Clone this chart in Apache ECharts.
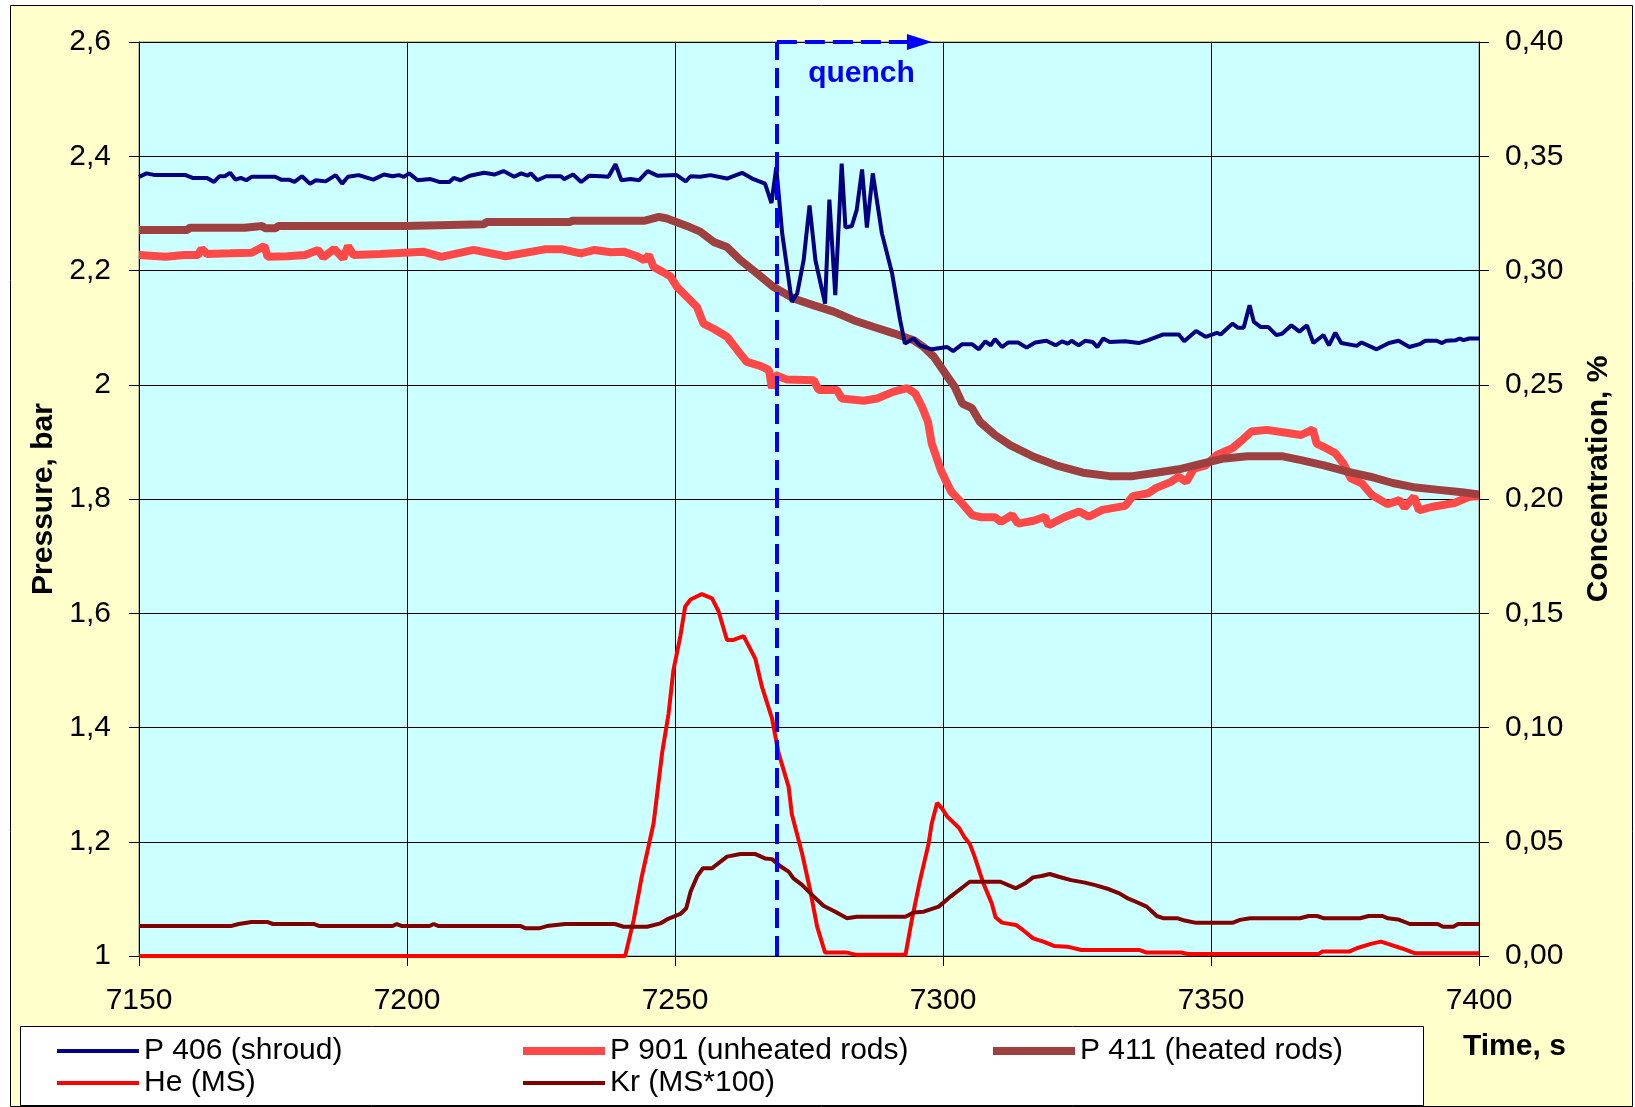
<!DOCTYPE html>
<html>
<head>
<meta charset="utf-8">
<script src="https://cdn.jsdelivr.net/npm/echarts@6/dist/echarts.min.js"></script>
<style>
html,body{margin:0;padding:0;background:#fff;}
#chart{width:1635px;height:1107px;}
</style>
</head>
<body>
<div id="chart"></div>
<script>
// ---- Data ----
const xTickLabels = ['7150','7200','7250','7300','7350','7400'];
const leftTickLabels = ['1','1,2','1,4','1,6','1,8','2','2,2','2,4','2,6'];
const rightTickLabels = ['0,00','0,05','0,10','0,15','0,20','0,25','0,30','0,35','0,40'];

const seriesNames = ['P 406 (shroud)','P 901 (unheated rods)','P 411 (heated rods)','He (MS)','Kr (MS*100)'];

const timeP406 = [7150,7151.4,7153,7158.7,7160,7162.7,7164,7165,7166,7167,7168,7169,7170,7171,7175.4,7176.5,7178,7179,7180.4,7181.9,7183,7184.8,7186.7,7187.9,7189,7191,7193.7,7195.7,7197.3,7198.5,7199.4,7200.4,7202,7204.4,7206,7207.9,7208.7,7210,7211.7,7214.4,7216.3,7218,7220,7221.3,7222.5,7223.1,7224.3,7226,7228.7,7229.3,7231,7232.5,7234,7236.3,7237.6,7238.9,7240,7241.7,7243.3,7244.9,7246.7,7250.3,7252,7252.9,7254.7,7256.6,7259.7,7262.5,7264.4,7266.8,7268,7268.9,7270,7271.8,7272.8,7274,7275.1,7276.2,7278,7278.8,7279.9,7281.1,7281.8,7283,7283.9,7284.9,7285.8,7286.9,7288.6,7290.5,7292,7292.9,7294.5,7295.7,7297.9,7300.8,7301.9,7303.6,7305.4,7306.7,7307.9,7308.9,7309.7,7311,7312.2,7314,7315.6,7317.2,7319.3,7321,7322.2,7323.3,7324,7325.3,7326.5,7327.9,7328.8,7329.9,7331.1,7334,7336.5,7338.3,7341.1,7344,7345,7347.2,7349,7351.1,7351.8,7354,7355,7356.1,7357.2,7358,7359.3,7360.7,7362.2,7363.2,7365,7366.5,7367.9,7369.1,7371,7372,7373.2,7374.3,7377.2,7378.1,7380.9,7383.2,7385,7387,7388.9,7390,7392.1,7393.1,7393.9,7395.7,7396.4,7397.1,7398.2,7400];
const valP406 = [2.364,2.370,2.367,2.367,2.362,2.362,2.355,2.365,2.365,2.371,2.359,2.362,2.358,2.364,2.364,2.359,2.359,2.355,2.365,2.352,2.358,2.356,2.367,2.352,2.364,2.367,2.359,2.368,2.365,2.367,2.364,2.370,2.358,2.360,2.355,2.355,2.362,2.358,2.366,2.371,2.368,2.374,2.364,2.370,2.366,2.370,2.358,2.365,2.365,2.360,2.368,2.355,2.366,2.365,2.364,2.386,2.358,2.360,2.358,2.374,2.366,2.367,2.356,2.365,2.364,2.367,2.361,2.371,2.361,2.352,2.318,2.381,2.265,2.145,2.160,2.218,2.314,2.218,2.142,2.324,2.157,2.387,2.275,2.278,2.306,2.377,2.275,2.370,2.265,2.195,2.113,2.072,2.081,2.069,2.062,2.066,2.059,2.071,2.071,2.062,2.076,2.069,2.080,2.066,2.074,2.074,2.065,2.074,2.077,2.069,2.076,2.072,2.077,2.069,2.077,2.075,2.066,2.081,2.075,2.076,2.073,2.078,2.088,2.088,2.076,2.094,2.084,2.091,2.088,2.107,2.100,2.100,2.139,2.110,2.101,2.101,2.087,2.089,2.104,2.093,2.104,2.073,2.087,2.069,2.091,2.073,2.068,2.074,2.062,2.073,2.077,2.066,2.071,2.077,2.077,2.073,2.077,2.078,2.081,2.078,2.081,2.081];

const timeP901 = [7150,7155,7158.4,7161,7161.7,7162.7,7167,7171,7173.4,7174,7177.7,7181,7183.4,7184.4,7186.4,7188.1,7189,7190,7195,7203,7206.4,7212.4,7218.4,7225.7,7229,7232.4,7235,7238,7240.4,7242.9,7244.3,7245.1,7246,7247.6,7249.1,7250.4,7252.2,7254.1,7255.3,7257.2,7259.7,7261.6,7263.4,7265.9,7267.5,7268.1,7268.7,7270.9,7275.9,7276.8,7280.2,7281.1,7285.2,7287.7,7290.8,7293.3,7294.8,7296.1,7297.2,7297.9,7299.7,7301.5,7303.6,7305.4,7307.2,7309.7,7310.8,7312.9,7314,7316.9,7319,7319.7,7322.6,7325.4,7327.2,7329.7,7334,7335.4,7338.3,7339.7,7342.5,7344,7345.4,7346.8,7349,7351.1,7354,7355.8,7357.5,7360.4,7364,7366.8,7369,7369.7,7371.5,7373.2,7374.7,7376.1,7378.2,7380,7382.9,7385.2,7386.1,7387.9,7388.8,7391.1,7395.4,7398.2,7400];
const valP901 = [2.227,2.224,2.227,2.227,2.238,2.229,2.230,2.231,2.243,2.224,2.225,2.227,2.236,2.223,2.238,2.221,2.243,2.227,2.229,2.233,2.224,2.236,2.225,2.237,2.237,2.230,2.236,2.232,2.233,2.225,2.218,2.227,2.206,2.198,2.190,2.171,2.154,2.136,2.107,2.098,2.084,2.061,2.040,2.033,2.026,1.994,2.017,2.009,2.008,1.991,1.991,1.976,1.972,1.976,1.988,1.994,1.985,1.961,1.935,1.897,1.848,1.813,1.792,1.772,1.768,1.768,1.760,1.772,1.757,1.762,1.769,1.754,1.768,1.778,1.769,1.781,1.788,1.805,1.810,1.819,1.830,1.839,1.830,1.853,1.859,1.877,1.889,1.903,1.918,1.921,1.916,1.912,1.922,1.897,1.889,1.880,1.862,1.836,1.827,1.807,1.791,1.798,1.785,1.804,1.780,1.786,1.793,1.804,1.805];

const timeP411 = [7150,7159,7159.5,7169.7,7170,7173,7173.5,7175.5,7176,7199.7,7200,7214.4,7214.8,7230.4,7230.8,7244.2,7247,7248.5,7252.2,7254.7,7257.2,7259.7,7262.2,7265.3,7268.4,7272.1,7275.9,7279.6,7283.3,7287.1,7290.8,7294.5,7296.4,7298.3,7300.4,7302.2,7303.6,7305.4,7306.9,7309.7,7312.6,7316.9,7321.1,7326.1,7331.1,7335.4,7339.7,7344,7348.3,7352.5,7356.8,7363.2,7366.8,7371.1,7375.4,7379.7,7383.9,7388.2,7392.5,7396.8,7400];
const valP411 = [2.271,2.271,2.275,2.275,2.278,2.278,2.274,2.274,2.278,2.278,2.281,2.281,2.285,2.285,2.287,2.287,2.294,2.291,2.278,2.268,2.250,2.241,2.218,2.195,2.171,2.151,2.139,2.128,2.113,2.101,2.090,2.078,2.066,2.049,2.020,1.996,1.967,1.959,1.935,1.912,1.894,1.874,1.859,1.846,1.840,1.840,1.846,1.852,1.862,1.871,1.875,1.875,1.868,1.859,1.848,1.839,1.828,1.820,1.816,1.812,1.808];

const timeHe = [7150,7240.7,7242.3,7243.8,7246,7247.6,7248.8,7249.7,7251,7251.9,7252.9,7255,7256.9,7258.1,7259.7,7260.9,7262.8,7265,7266.2,7268.1,7269.3,7271.2,7271.8,7273.7,7275.2,7276.5,7278,7282.1,7283.9,7293,7294.2,7295.7,7297.3,7297.9,7298.9,7299.8,7300.8,7303,7304,7305,7305.9,7307.5,7309.1,7309.8,7311,7313.6,7314.9,7316.8,7318.7,7320.7,7323.2,7325.8,7336.7,7338,7344.4,7345.7,7370.1,7370.8,7375.9,7377.2,7379.8,7381.7,7383,7385.5,7388.1,7400];
const valHe = [0,0,0.0158,0.0347,0.058,0.089,0.106,0.125,0.140,0.153,0.156,0.1584,0.1565,0.151,0.1383,0.1383,0.140,0.130,0.118,0.104,0.089,0.074,0.062,0.045,0.029,0.013,0.0015,0.0015,0.0005,0.0005,0.016,0.033,0.049,0.058,0.067,0.0646,0.061,0.056,0.052,0.049,0.0435,0.032,0.023,0.017,0.0146,0.0136,0.0114,0.0077,0.0063,0.0044,0.0041,0.0026,0.0026,0.0015,0.0015,0.0009,0.0009,0.002,0.002,0.0034,0.0053,0.0063,0.0053,0.0034,0.0012,0.0012];

const timeKr = [7150,7167.1,7168.6,7171,7173.9,7175,7182.7,7183.7,7197.3,7198.1,7199.1,7204.2,7205,7205.9,7221.2,7222.2,7224.6,7226.1,7229.5,7238.8,7240.4,7244.8,7247.3,7248.5,7251,7252.1,7252.9,7254.1,7255.2,7256.9,7259.7,7262.2,7265,7266.8,7268.1,7269.6,7271.2,7272.1,7273.7,7275.9,7277.7,7279.9,7282.1,7283.9,7293,7294.5,7296.4,7299.2,7301.4,7303,7305,7310.7,7313.6,7315.5,7316.8,7318.4,7319.9,7321.6,7323.9,7326.5,7328.4,7331,7332.9,7334.5,7336.4,7338,7339.9,7341.2,7343.8,7345.1,7347,7354.1,7355.4,7357.3,7366.6,7368.2,7369.8,7371.1,7377.8,7379.4,7382,7383,7384.9,7387.1,7392.3,7393.3,7395.2,7396.1,7400];
const valKr = [0.0131,0.0131,0.0140,0.0149,0.0149,0.0140,0.0140,0.0131,0.0131,0.0140,0.0131,0.0131,0.0140,0.0131,0.0131,0.0121,0.0121,0.0131,0.0140,0.0140,0.0128,0.0128,0.0143,0.016,0.0184,0.0209,0.0281,0.0347,0.0384,0.0384,0.0435,0.0446,0.0446,0.0427,0.0424,0.0394,0.0369,0.034,0.0311,0.026,0.022,0.0194,0.0165,0.0172,0.0172,0.019,0.0194,0.0216,0.026,0.0289,0.0325,0.0325,0.0296,0.0321,0.0344,0.035,0.0359,0.0347,0.0332,0.0321,0.031,0.0292,0.0274,0.0252,0.0233,0.0216,0.0175,0.0165,0.0165,0.0155,0.0146,0.0146,0.0158,0.0165,0.0165,0.0175,0.0175,0.0165,0.0165,0.0175,0.0175,0.0165,0.016,0.014,0.014,0.0128,0.0128,0.014,0.014];

const quenchTime = 7269;
const quenchArrowEnd = 7295.6;
const quenchLabel = 'quench';
const quenchLabelPos = [7284.8, 2.544];

// ---- Build ----
const zip = (t, v) => t.map((x, i) => [x, v[i]]);
const FONT = '"Liberation Sans", Arial, sans-serif';
const thinIcon = 'path://M0,0H82V4H0Z';
const thickIcon = 'path://M0,0H82V8H0Z';

const chart = echarts.init(document.getElementById('chart'), null, {renderer: 'canvas'});

const legendCommon = {
  orient: 'vertical', top: 1036, padding: 0, itemGap: 2,
  itemWidth: 82, itemHeight: 14, symbolKeepAspect: true,
  itemStyle: {borderWidth: 0},
  textStyle: {fontFamily: FONT, fontSize: 30, color: '#000', lineHeight: 30},
  selectedMode: false
};

const option = {
  animation: false,
  backgroundColor: '#fff',
  graphic: [
    {type: 'rect', z: -100, shape: {x: 10.5, y: 5.5, width: 1622, height: 1101},
     style: {fill: '#FFFFCC', stroke: '#000', lineWidth: 1}},
    {type: 'rect', z: -50, shape: {x: 20.5, y: 1026.5, width: 1403, height: 79},
     style: {fill: '#FFFFFF', stroke: '#000', lineWidth: 1}}
  ],
  grid: {left: 139, top: 42, width: 1340, height: 914, show: true,
         backgroundColor: '#CCFFFF', borderColor: '#808080', borderWidth: 1},
  legend: [
    Object.assign({}, legendCommon, {left: 57, data: [
      {name: seriesNames[0], icon: thinIcon}, {name: seriesNames[3], icon: thinIcon}]}),
    Object.assign({}, legendCommon, {left: 523, data: [
      {name: seriesNames[1], icon: thickIcon}, {name: seriesNames[4], icon: thinIcon}]}),
    Object.assign({}, legendCommon, {left: 993, data: [
      {name: seriesNames[2], icon: thickIcon}]})
  ],
  xAxis: {
    type: 'value', min: 7150, max: 7400, interval: 50,
    name: 'Time, s', nameLocation: 'end', nameGap: -16,
    nameTextStyle: {fontFamily: FONT, fontSize: 30, fontWeight: 'bold', color: '#000',
                    verticalAlign: 'top', align: 'left', padding: [76, 0, 0, 0]},
    axisLine: {show: true, lineStyle: {color: '#000', width: 1}},
    axisTick: {show: true, inside: false, length: 10, lineStyle: {color: '#000'}},
    axisLabel: {fontFamily: FONT, fontSize: 30, color: '#000', margin: 30,
                formatter: v => xTickLabels[Math.round((v - 7150) / 50)]},
    splitLine: {show: true, lineStyle: {color: '#000', width: 1}}
  },
  yAxis: [
    {
      type: 'value', min: 1, max: 2.6, interval: 0.2, position: 'left',
      name: 'Pressure, bar', nameLocation: 'middle', nameRotate: 90, nameGap: 80,
      nameTextStyle: {fontFamily: FONT, fontSize: 30, fontWeight: 'bold', color: '#000'},
      axisLine: {show: true, lineStyle: {color: '#000', width: 1}},
      axisTick: {show: true, inside: false, length: 10, lineStyle: {color: '#000'}},
      axisLabel: {fontFamily: FONT, fontSize: 30, color: '#000', margin: 28,
                  formatter: v => leftTickLabels[Math.round((v - 1) / 0.2)]},
      splitLine: {show: true, lineStyle: {color: '#000', width: 1}}
    },
    {
      type: 'value', min: 0, max: 0.4, interval: 0.05, position: 'right',
      name: 'Concentration, %', nameLocation: 'middle', nameRotate: 90, nameGap: 105,
      nameTextStyle: {fontFamily: FONT, fontSize: 30, fontWeight: 'bold', color: '#000',
                      padding: [0, 0, 0, 40]},
      axisLine: {show: true, lineStyle: {color: '#000', width: 1}},
      axisTick: {show: true, inside: false, length: 10, lineStyle: {color: '#000'}},
      axisLabel: {fontFamily: FONT, fontSize: 30, color: '#000', margin: 26,
                  formatter: v => rightTickLabels[Math.round(v / 0.05)]},
      splitLine: {show: false}
    }
  ],
  series: [
    {name: seriesNames[0], type: 'line', yAxisIndex: 0, symbol: 'none', z: 3,
     data: zip(timeP406, valP406), lineStyle: {color: '#000080', width: 4}, itemStyle: {color: '#000080'}},
    {name: seriesNames[1], type: 'line', yAxisIndex: 0, symbol: 'none', z: 2,
     data: zip(timeP901, valP901), lineStyle: {color: '#FF4848', width: 8}, itemStyle: {color: '#FF4848'}},
    {name: seriesNames[2], type: 'line', yAxisIndex: 0, symbol: 'none', z: 2,
     data: zip(timeP411, valP411), lineStyle: {color: '#9E4040', width: 8}, itemStyle: {color: '#9E4040'}},
    {name: seriesNames[3], type: 'line', yAxisIndex: 1, symbol: 'none', z: 3,
     data: zip(timeHe, valHe), lineStyle: {color: '#FF0000', width: 4}, itemStyle: {color: '#FF0000'}},
    {name: seriesNames[4], type: 'line', yAxisIndex: 1, symbol: 'none', z: 3,
     data: zip(timeKr, valKr), lineStyle: {color: '#800000', width: 4}, itemStyle: {color: '#800000'}},
    {name: 'quench', type: 'line', yAxisIndex: 0, data: [], z: 10, symbol: 'none',
     markLine: {
       silent: true, symbol: ['none', 'none'], animation: false,
       label: {show: false},
       lineStyle: {color: '#0000FF', width: 4, type: [20, 8]},
       data: [
         [{coord: [quenchTime, 1]}, {coord: [quenchTime, 2.6]}],
         [{coord: [quenchTime, 2.6]}, {coord: [quenchArrowEnd, 2.6], symbol: 'triangle', symbolSize: [16, 25]}]
       ]
     },
     markPoint: {
       silent: true, animation: false,
       data: [{coord: quenchLabelPos, symbol: 'circle', symbolSize: 1, itemStyle: {color: 'rgba(0,0,0,0)'},
               label: {show: true, position: 'inside', formatter: quenchLabel,
                       fontFamily: FONT, fontSize: 30, fontWeight: 'bold', color: '#0000FF'}}]
     }
    }
  ]
};
chart.setOption(option);
</script>
</body>
</html>
